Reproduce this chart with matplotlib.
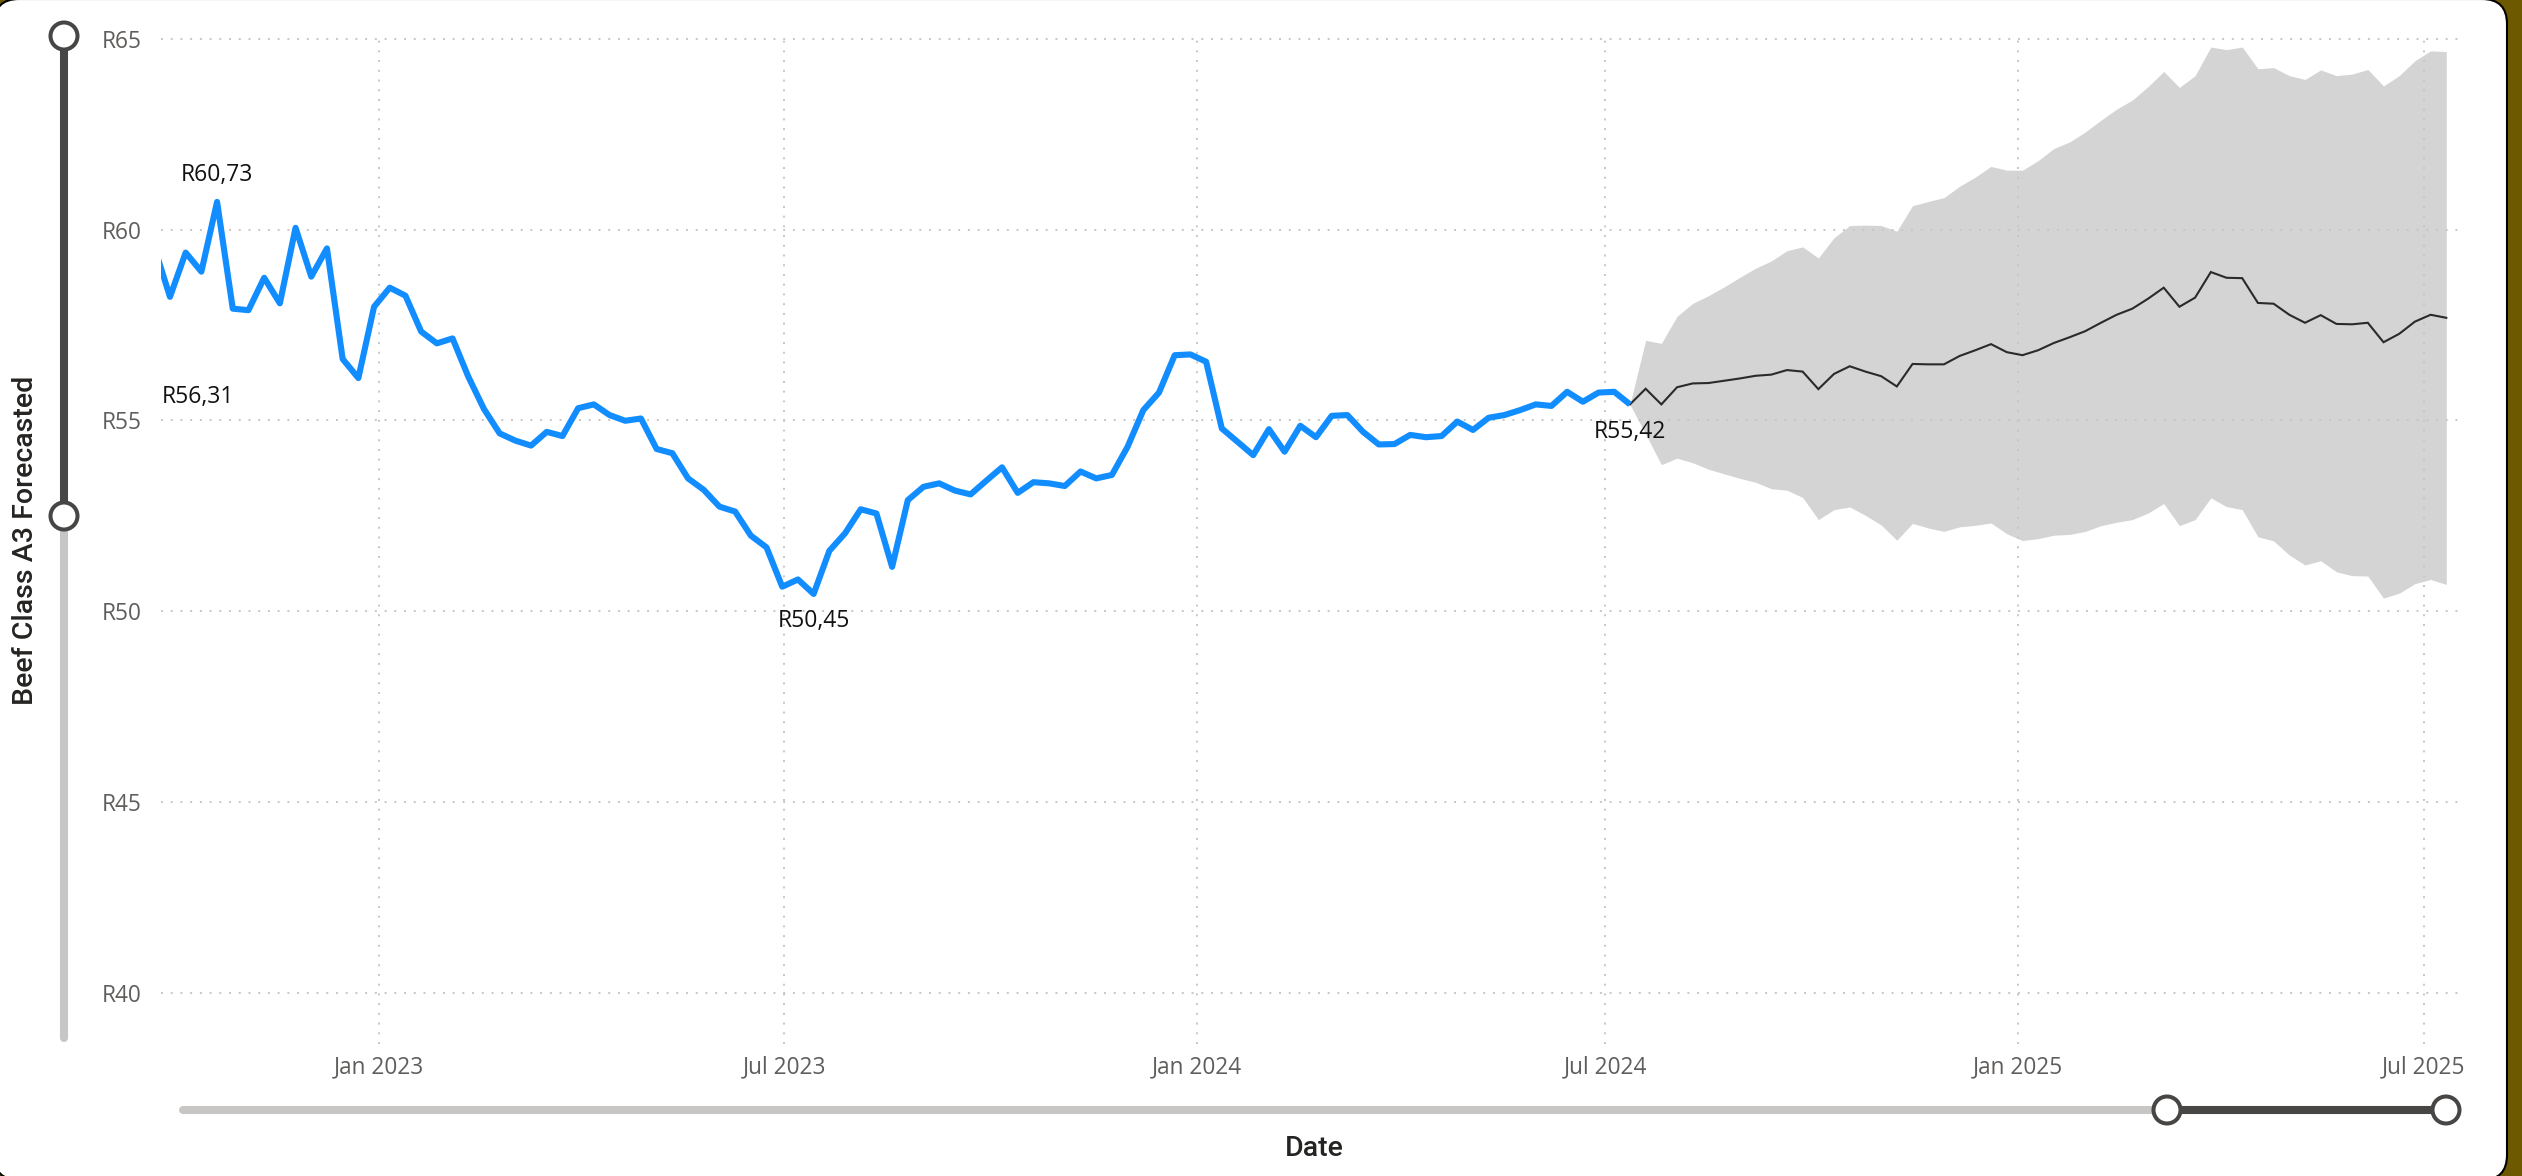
import matplotlib
matplotlib.use("Agg")
import matplotlib.pyplot as plt
import matplotlib.dates as mdates
from matplotlib.patches import FancyBboxPatch, Circle
from matplotlib.lines import Line2D
from matplotlib.ticker import FuncFormatter
import pandas as pd

# ---------------- data ----------------
actual_end = "2024-07-12"
actual_values = [
    56.31, 59.55,
    58.24, 59.40, 58.90, 60.73, 57.93, 57.89, 58.74, 58.07, 60.05, 58.77,
    59.51, 56.61, 56.11, 57.98, 58.48, 58.27, 57.33, 57.02, 57.15, 56.15,
    55.30, 54.66, 54.47, 54.34, 54.70, 54.59, 55.32, 55.42, 55.14, 54.99,
    55.05, 54.25, 54.14, 53.48, 53.18, 52.74, 52.61, 51.98, 51.67, 50.64,
    50.83, 50.45, 51.58, 52.04, 52.67, 52.56, 51.16, 52.91, 53.26, 53.35,
    53.16, 53.06, 53.42, 53.77, 53.10, 53.38, 53.35, 53.28, 53.66, 53.48,
    53.57, 54.31, 55.27, 55.73, 56.71, 56.73, 56.54, 54.79, 54.44, 54.09,
    54.77, 54.18, 54.86, 54.56, 55.12, 55.14, 54.70, 54.37, 54.38, 54.62,
    54.56, 54.59, 54.97, 54.75, 55.07, 55.14, 55.27, 55.42, 55.38, 55.75,
    55.49, 55.73, 55.75, 55.42,
]
forecast_values = [
    55.42, 55.83, 55.42, 55.87, 55.97, 55.98, 56.04, 56.10, 56.17, 56.20,
    56.32, 56.28, 55.82, 56.22, 56.42, 56.28, 56.16, 55.89, 56.48, 56.47,
    56.47, 56.69, 56.84, 57.00, 56.79, 56.71, 56.84, 57.03, 57.18, 57.34,
    57.56, 57.77, 57.93, 58.19, 58.48, 57.98, 58.22, 58.89, 58.74, 58.73,
    58.08, 58.06, 57.77, 57.56, 57.76, 57.53, 57.52, 57.56, 57.05, 57.27,
    57.59, 57.77, 57.69,
]
forecast_upper = [
    55.42, 57.10, 57.02, 57.73, 58.07, 58.27, 58.50, 58.75, 58.99, 59.18,
    59.45, 59.55, 59.26, 59.79, 60.11, 60.12, 60.11, 59.96, 60.63, 60.74,
    60.84, 61.14, 61.38, 61.66, 61.56, 61.56, 61.81, 62.13, 62.30, 62.56,
    62.87, 63.16, 63.40, 63.75, 64.15, 63.73, 64.04, 64.79, 64.72, 64.79,
    64.22, 64.25, 64.04, 63.94, 64.19, 64.04, 64.08, 64.20, 63.77, 64.04,
    64.43, 64.69, 64.67,
]
forecast_lower = [
    55.42, 54.64, 53.84, 54.01, 53.89, 53.72, 53.60, 53.48, 53.38, 53.21,
    53.17, 52.98, 52.40, 52.66, 52.73, 52.51, 52.26, 51.86, 52.30, 52.18,
    52.09, 52.21, 52.25, 52.31, 52.03, 51.85, 51.90, 51.99, 52.01, 52.09,
    52.24, 52.33, 52.40, 52.57, 52.82, 52.24, 52.40, 52.97, 52.74, 52.66,
    51.95, 51.84, 51.47, 51.21, 51.32, 51.03, 50.93, 50.92, 50.34, 50.47,
    50.72, 50.83, 50.70,
]
x_tick_dates = ["2023-01-01", "2023-07-01", "2024-01-01", "2024-07-01", "2025-01-01", "2025-07-01"]
x_tick_labels = ["Jan 2023", "Jul 2023", "Jan 2024", "Jul 2024", "Jan 2025", "Jul 2025"]
y_ticks = [40, 45, 50, 55, 60, 65]
y_title = "Beef Class A3 Forecasted"
x_title = "Date"

actual_dates = pd.date_range(end=actual_end, periods=len(actual_values), freq="7D")
forecast_dates = pd.date_range(start=actual_end, periods=len(forecast_values), freq="7D")

# ---------------- style ----------------
W, H = 2522, 1176
GOLD = "#6D5A00"
BLUE = "#118DFF"
DARK = "#484644"
LIGHT = "#C8C6C4"
GRID = "#C8C6C4"
TICK = "#605E5C"
TXT = "#252423"
FONT = ["Open Sans", "DejaVu Sans"]
TFONT = ["Roboto", "DejaVu Sans"]

fig = plt.figure(figsize=(W / 100, H / 100), dpi=100)
fig.patch.set_facecolor(GOLD)


def P(x, y):
    return (x / 100.0, (H - y) / 100.0)


tr = fig.dpi_scale_trans
card = FancyBboxPatch(P(-6, 1180), 25.13, 11.81,
                      boxstyle="round,pad=0,rounding_size=0.25",
                      facecolor="white", edgecolor="black", linewidth=1.5,
                      transform=tr, zorder=0)
fig.add_artist(card)

# axes placement (pixels)
ax_left, ax_right, ax_top, ax_bot = 161, 2462, 35.2, 1044
ax = fig.add_axes([ax_left / W, 1 - ax_bot / H, (ax_right - ax_left) / W, (ax_bot - ax_top) / H])
ax.set_facecolor("none")
for s in ax.spines.values():
    s.set_visible(False)

ax.set_xlim(pd.Timestamp("2022-09-26"), pd.Timestamp("2025-07-18"))
ax.set_ylim(38.65, 65.1)

ax.fill_between(forecast_dates, forecast_lower, forecast_upper, color="#D4D4D4",
                linewidth=0, zorder=0.3)
ax.plot(forecast_dates, forecast_values, color="#2B2A29", linewidth=1.5, zorder=2,
        solid_joinstyle="miter")
ax.plot(actual_dates, actual_values, color=BLUE, linewidth=4.4, zorder=3,
        solid_joinstyle="round", solid_capstyle="butt")

ax.set_yticks(y_ticks)
ax.yaxis.set_major_formatter(FuncFormatter(lambda v, p: f"R{int(round(v))}"))
ax.set_xticks(pd.to_datetime(x_tick_dates))
ax.set_xticklabels(x_tick_labels)
ax.tick_params(axis="both", length=0, labelcolor=TICK, labelsize=16.3)
ax.tick_params(axis="y", pad=14)
ax.tick_params(axis="x", pad=8)
for lab in ax.get_xticklabels() + ax.get_yticklabels():
    lab.set_family(FONT)

ax.set_axisbelow(True)
ax.grid(True, color=GRID, linewidth=1.4, linestyle=(0, (1, 4)))


def fmt(v):
    return "R" + f"{v:.2f}".replace(".", ",")


LBL = 16.5
xmin_num = ax.get_xlim()[0]
# first point (clamped into view)
first_x = max(mdates.date2num(actual_dates[0]), xmin_num)
ax.annotate(fmt(actual_values[0]), xy=(first_x, actual_values[0]), xytext=(0.5, -19),
            textcoords="offset points", ha="left", va="center", fontsize=LBL,
            family=FONT, color="#111111", annotation_clip=False)
imax = max(range(len(actual_values)), key=lambda i: actual_values[i])
imin = min(range(len(actual_values)), key=lambda i: actual_values[i])
ax.annotate(fmt(actual_values[imax]), xy=(actual_dates[imax], actual_values[imax]),
            xytext=(0, 19), textcoords="offset points", ha="center", va="center",
            fontsize=LBL, family=FONT, color="#111111")
ax.annotate(fmt(actual_values[imin]), xy=(actual_dates[imin], actual_values[imin]),
            xytext=(0, -19.5), textcoords="offset points", ha="center", va="center",
            fontsize=LBL, family=FONT, color="#111111")
ax.annotate(fmt(actual_values[-1]), xy=(actual_dates[-1], actual_values[-1]),
            xytext=(0, -20), textcoords="offset points", ha="center", va="center",
            fontsize=LBL, family=FONT, color="#111111")

# axis titles
fig.text(*P(26, 540), y_title, transform=tr, rotation=90, ha="center", va="center",
         fontsize=20.5, family=TFONT, fontweight="medium", color=TXT)
fig.text(*P(1314, 1148), x_title, transform=tr, ha="center", va="center",
         fontsize=20.5, family=TFONT, fontweight="medium", color=TXT)

# zoom sliders
lw_sl = 5.8


def seg(x1, y1, x2, y2, c):
    (a, b), (cc, d) = P(x1, y1), P(x2, y2)
    fig.add_artist(Line2D([a, cc], [b, d], transform=tr, color=c, linewidth=lw_sl,
                          solid_capstyle="round", zorder=5))


def knob(x, y):
    fig.add_artist(Circle(P(x, y), 0.135, transform=tr, facecolor="white",
                          edgecolor=DARK, linewidth=2.9, zorder=6))


seg(64, 516, 64, 1038, LIGHT)
seg(64, 36, 64, 516, DARK)
knob(64, 36)
knob(64, 516)

seg(183, 1110, 2167, 1110, LIGHT)
seg(2167, 1110, 2446, 1110, DARK)
knob(2167, 1110)
knob(2446, 1110)

fig.savefig("out.png", dpi=100, facecolor=fig.get_facecolor())
